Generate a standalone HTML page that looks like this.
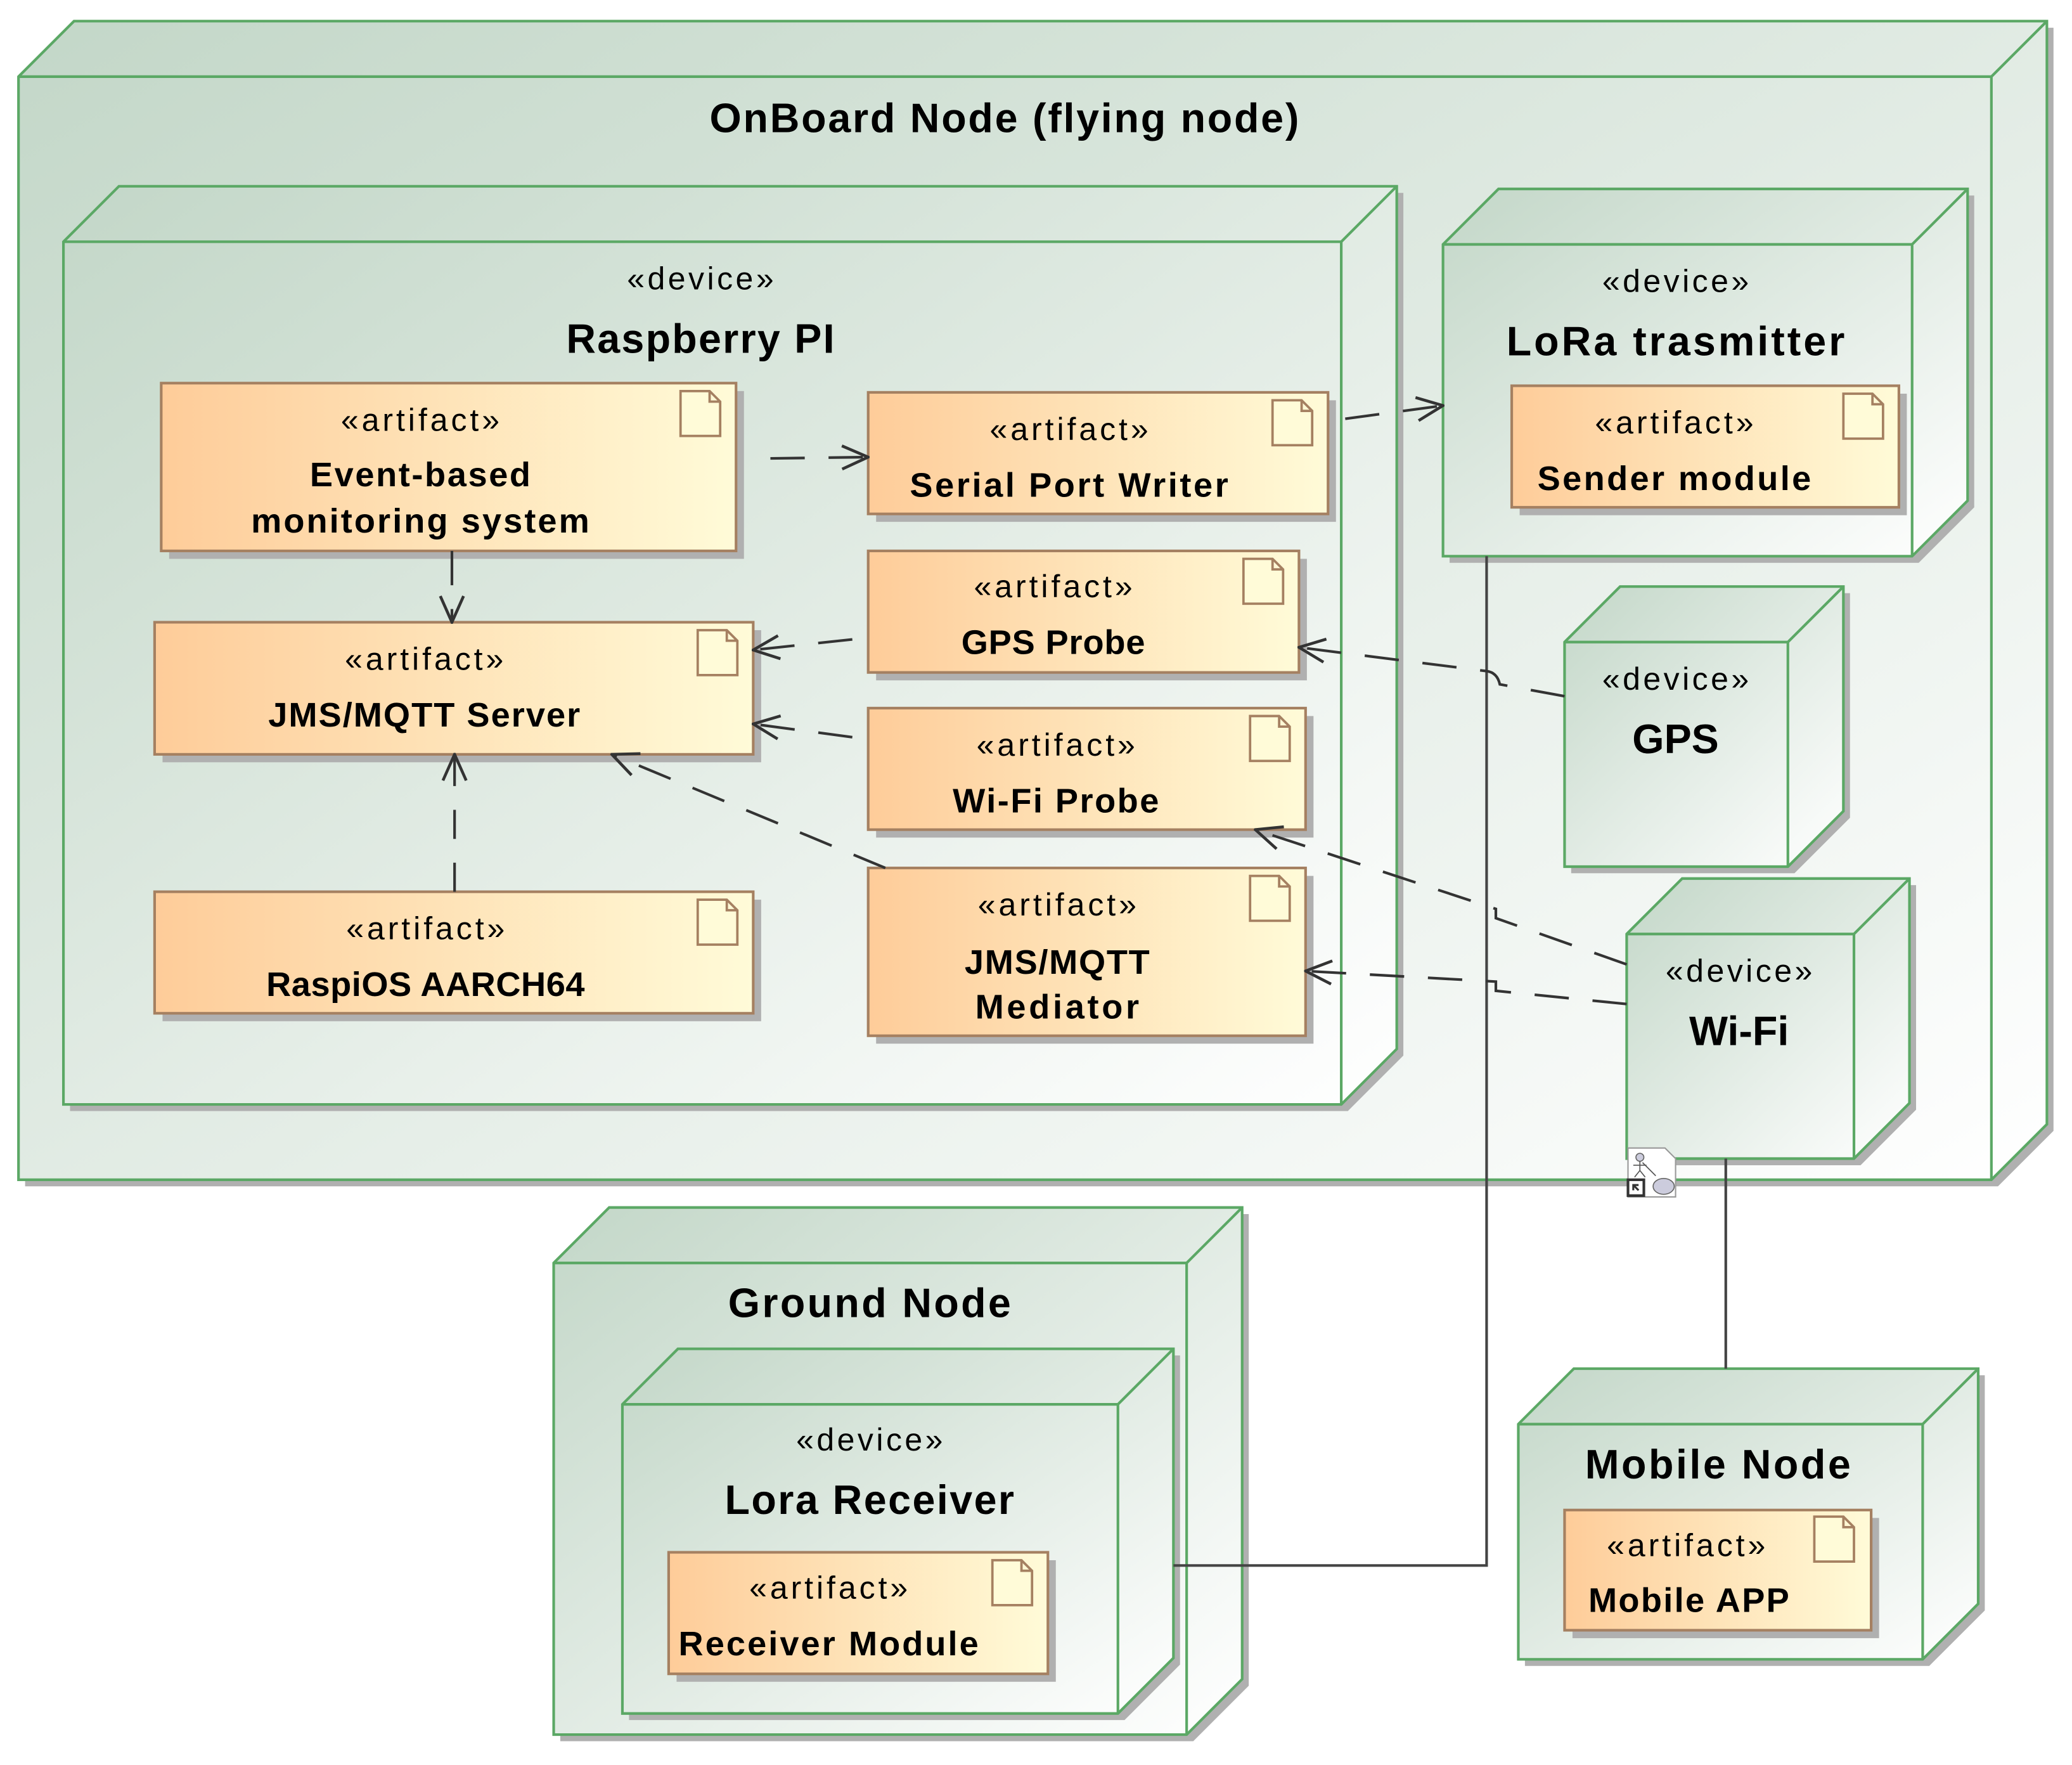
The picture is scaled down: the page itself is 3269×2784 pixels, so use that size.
<!DOCTYPE html>
<html><head><meta charset="utf-8"><style>html,body{margin:0;padding:0;background:#fff}svg{display:block}</style></head>
<body>
<svg width="3269" height="2784" viewBox="0 0 1568 1336" preserveAspectRatio="none" xmlns="http://www.w3.org/2000/svg" font-family="'Liberation Sans','DejaVu Sans',sans-serif">
<defs>
<linearGradient id="ng" x1="0" y1="0" x2="1" y2="1"><stop offset="0" stop-color="#c3d7c8"/><stop offset="1" stop-color="#ffffff"/></linearGradient>
<linearGradient id="ag" x1="0" y1="0" x2="1" y2="0"><stop offset="0" stop-color="#fecc99"/><stop offset="1" stop-color="#fffbd8"/></linearGradient>
<marker id="ar" viewBox="0 0 20 20" refX="19" refY="10" markerWidth="22" markerHeight="22" markerUnits="userSpaceOnUse" orient="auto"><path d="M1 2 L19 10 L1 18" fill="none" stroke="#333" stroke-width="2"/></marker>
</defs>
<style>
.n{fill:url(#ng);stroke:#5ba865;stroke-width:2}
.ns{fill:#b0b0b0}
.a{fill:url(#ag);stroke:#a58061;stroke-width:2}
.as{fill:#b0b0b0}
.d{fill:#fffbd8;stroke:#a58061;stroke-width:1.8}
.t{font-weight:bold;text-anchor:middle;fill:#000}
.s{text-anchor:middle;fill:#000}
.dl{fill:none;stroke:#333;stroke-width:2;stroke-dasharray:26 18}
.sl{fill:none;stroke:#444;stroke-width:2}
</style>

<!-- OnBoard -->
<polygon class="ns" points="19,63 61,21 1554,21 1554,856 1512,898 19,898"/>
<polygon class="n" points="14,58 56,16 1549,16 1549,851 1507,893 14,893"/>
<path d="M14 58 H1507 V893 M1507 58 L1549 16" class="n" style="fill:none"/>
<text x="760" y="100" class="t" font-size="31" textLength="446">OnBoard Node (flying node)</text>

<!-- Raspberry -->
<polygon class="ns" points="53,188 95,146 1062,146 1062,799 1020,841 53,841"/>
<polygon class="n" points="48,183 90,141 1057,141 1057,794 1015,836 48,836"/>
<path d="M48 183 H1015 V836 M1015 183 L1057 141" class="n" style="fill:none"/>
<text x="530" y="219" class="s" font-size="24" textLength="111">«device»</text>
<text x="530" y="267" class="t" font-size="31" textLength="203">Raspberry PI</text>

<!-- LoRa trasmitter -->
<polygon class="ns" points="1097,190 1139,148 1494,148 1494,384 1452,426 1097,426"/>
<polygon class="n" points="1092,185 1134,143 1489,143 1489,379 1447,421 1092,421"/>
<path d="M1092 185 H1447 V421 M1447 185 L1489 143" class="n" style="fill:none"/>
<text x="1268" y="221" class="s" font-size="24" textLength="111">«device»</text>
<text x="1268" y="269" class="t" font-size="31" textLength="256">LoRa trasmitter</text>

<!-- GPS -->
<polygon class="ns" points="1189,491 1231,449 1400,449 1400,619 1358,661 1189,661"/>
<polygon class="n" points="1184,486 1226,444 1395,444 1395,614 1353,656 1184,656"/>
<path d="M1184 486 H1353 V656 M1353 486 L1395 444" class="n" style="fill:none"/>
<text x="1268" y="522" class="s" font-size="24" textLength="111">«device»</text>
<text x="1268" y="570" class="t" font-size="31">GPS</text>

<!-- Wi-Fi -->
<polygon class="ns" points="1236,712 1278,670 1450,670 1450,840 1408,882 1236,882"/>
<polygon class="n" points="1231,707 1273,665 1445,665 1445,835 1403,877 1231,877"/>
<path d="M1231 707 H1403 V877 M1403 707 L1445 665" class="n" style="fill:none"/>
<text x="1316" y="743" class="s" font-size="24" textLength="111">«device»</text>
<text x="1316" y="791" class="t" font-size="31">Wi-Fi</text>

<!-- Ground Node -->
<polygon class="ns" points="424,961 466,919 945,919 945,1276 903,1318 424,1318"/>
<polygon class="n" points="419,956 461,914 940,914 940,1271 898,1313 419,1313"/>
<path d="M419 956 H898 V1313 M898 956 L940 914" class="n" style="fill:none"/>
<text x="658" y="997" class="t" font-size="31" textLength="214">Ground Node</text>

<!-- Lora Receiver -->
<polygon class="ns" points="476,1068 518,1026 893,1026 893,1260 851,1302 476,1302"/>
<polygon class="n" points="471,1063 513,1021 888,1021 888,1255 846,1297 471,1297"/>
<path d="M471 1063 H846 V1297 M846 1063 L888 1021" class="n" style="fill:none"/>
<text x="658" y="1098" class="s" font-size="24" textLength="111">«device»</text>
<text x="658" y="1146" class="t" font-size="31" textLength="219">Lora Receiver</text>

<!-- Mobile Node -->
<polygon class="ns" points="1154,1083 1196,1041 1502,1041 1502,1219 1460,1261 1154,1261"/>
<polygon class="n" points="1149,1078 1191,1036 1497,1036 1497,1214 1455,1256 1149,1256"/>
<path d="M1149 1078 H1455 V1256 M1455 1078 L1497 1036" class="n" style="fill:none"/>
<text x="1300" y="1119" class="t" font-size="31" textLength="201">Mobile Node</text>

<!-- Artifacts -->
<g>
<rect class="as" x="128" y="296" width="435" height="127"/><rect class="a" x="122" y="290" width="435" height="127"/>
<path class="d" d="M515 296 h22 l8 8 v26 h-30 z M537 296 v8 h8"/>
<text x="318" y="326" class="s" font-size="24" textLength="120">«artifact»</text>
<text x="318" y="368" class="t" font-size="26" textLength="167">Event-based</text>
<text x="318" y="403" class="t" font-size="26" textLength="256">monitoring system</text>
</g>
<g>
<rect class="as" x="663" y="303" width="348" height="92"/><rect class="a" x="657" y="297" width="348" height="92"/>
<path class="d" d="M963 303 h22 l8 8 v26 h-30 z M985 303 v8 h8"/>
<text x="809" y="333" class="s" font-size="24" textLength="120">«artifact»</text>
<text x="809" y="376" class="t" font-size="26" textLength="241">Serial Port Writer</text>
</g>
<g>
<rect class="as" x="663" y="423" width="326" height="92"/><rect class="a" x="657" y="417" width="326" height="92"/>
<path class="d" d="M941 423 h22 l8 8 v26 h-30 z M963 423 v8 h8"/>
<text x="797" y="452" class="s" font-size="24" textLength="120">«artifact»</text>
<text x="797" y="495" class="t" font-size="26" textLength="139">GPS Probe</text>
</g>
<g>
<rect class="as" x="123" y="477" width="453" height="100"/><rect class="a" x="117" y="471" width="453" height="100"/>
<path class="d" d="M528 477 h22 l8 8 v26 h-30 z M550 477 v8 h8"/>
<text x="321" y="507" class="s" font-size="24" textLength="120">«artifact»</text>
<text x="321" y="550" class="t" font-size="26" textLength="236">JMS/MQTT Server</text>
</g>
<g>
<rect class="as" x="663" y="542" width="331" height="92"/><rect class="a" x="657" y="536" width="331" height="92"/>
<path class="d" d="M946 542 h22 l8 8 v26 h-30 z M968 542 v8 h8"/>
<text x="799" y="572" class="s" font-size="24" textLength="120">«artifact»</text>
<text x="799" y="615" class="t" font-size="26" textLength="156">Wi-Fi Probe</text>
</g>
<g>
<rect class="as" x="123" y="681" width="453" height="92"/><rect class="a" x="117" y="675" width="453" height="92"/>
<path class="d" d="M528 681 h22 l8 8 v26 h-30 z M550 681 v8 h8"/>
<text x="322" y="711" class="s" font-size="24" textLength="120">«artifact»</text>
<text x="322" y="754" class="t" font-size="26" textLength="241">RaspiOS AARCH64</text>
</g>
<g>
<rect class="as" x="663" y="663" width="331" height="127"/><rect class="a" x="657" y="657" width="331" height="127"/>
<path class="d" d="M946 663 h22 l8 8 v26 h-30 z M968 663 v8 h8"/>
<text x="800" y="693" class="s" font-size="24" textLength="120">«artifact»</text>
<text x="800" y="737" class="t" font-size="26" textLength="140">JMS/MQTT</text>
<text x="800" y="771" class="t" font-size="26" textLength="124">Mediator</text>
</g>
<g>
<rect class="as" x="1150" y="298" width="293" height="92"/><rect class="a" x="1144" y="292" width="293" height="92"/>
<path class="d" d="M1395 298 h22 l8 8 v26 h-30 z M1417 298 v8 h8"/>
<text x="1267" y="328" class="s" font-size="24" textLength="120">«artifact»</text>
<text x="1267" y="371" class="t" font-size="26" textLength="207">Sender module</text>
</g>
<g>
<rect class="as" x="512" y="1181" width="287" height="92"/><rect class="a" x="506" y="1175" width="287" height="92"/>
<path class="d" d="M751 1181 h22 l8 8 v26 h-30 z M773 1181 v8 h8"/>
<text x="627" y="1210" class="s" font-size="24" textLength="120">«artifact»</text>
<text x="627" y="1253" class="t" font-size="26" textLength="227">Receiver Module</text>
</g>
<g>
<rect class="as" x="1190" y="1149" width="232" height="91"/><rect class="a" x="1184" y="1143" width="232" height="91"/>
<path class="d" d="M1373 1148 h22 l8 8 v26 h-30 z M1395 1148 v8 h8"/>
<text x="1276" y="1178" class="s" font-size="24" textLength="120">«artifact»</text>
<text x="1278" y="1220" class="t" font-size="26" textLength="152">Mobile APP</text>
</g>

<!-- solid connectors -->
<path class="sl" d="M1125 421 V1185 H888"/>
<path class="sl" d="M1306 877 V1036"/>

<!-- dashed connectors -->
<path class="dl" d="M583 347 L657 346" marker-end="url(#ar)"/>
<path class="dl" d="M1018 317 L1092 307" marker-end="url(#ar)"/>
<path class="dl" d="M342 417 L342 471" marker-end="url(#ar)"/>
<path class="dl" d="M645 484 L570 492" marker-end="url(#ar)"/>
<path class="dl" d="M645 558 L570 548" marker-end="url(#ar)"/>
<path class="dl" d="M670 657 L463 571" marker-end="url(#ar)"/>
<path class="dl" d="M344 675 L344 571" marker-end="url(#ar)" style="stroke-dasharray:22 18"/>
<path class="dl" d="M1184 527 L1135 518 Q1133 509 1125 508 L983 490" marker-end="url(#ar)"/>
<path class="dl" d="M1231 730 L1132 695 L1132 688 L950 628" marker-end="url(#ar)"/>
<path class="dl" d="M1231 760 L1132 750 L1132 743 L988 735" marker-end="url(#ar)"/>

<!-- small icon -->
<g transform="translate(1231,868)">
<path d="M1 1 h28 l8 8 v29 h-36 z" fill="#fff" stroke="#999" stroke-width="1"/>
<circle cx="10" cy="8" r="3" fill="#ccd" stroke="#666" stroke-width="0.8"/>
<path d="M10 11 v7 M5 14 h10 M10 18 l-4 5 M10 18 l4 5 M12 12 l10 10" stroke="#555" stroke-width="0.8" fill="none"/>
<ellipse cx="28" cy="30" rx="8" ry="6" fill="#ccd" stroke="#666" stroke-width="0.8"/>
<rect x="1" y="25" width="12" height="12" fill="#fff" stroke="#333" stroke-width="2"/>
<path d="M5 33 v-4 h4 M5 29 l4 4" stroke="#333" stroke-width="1.5" fill="none"/>
</g>
</svg>
</body></html>
